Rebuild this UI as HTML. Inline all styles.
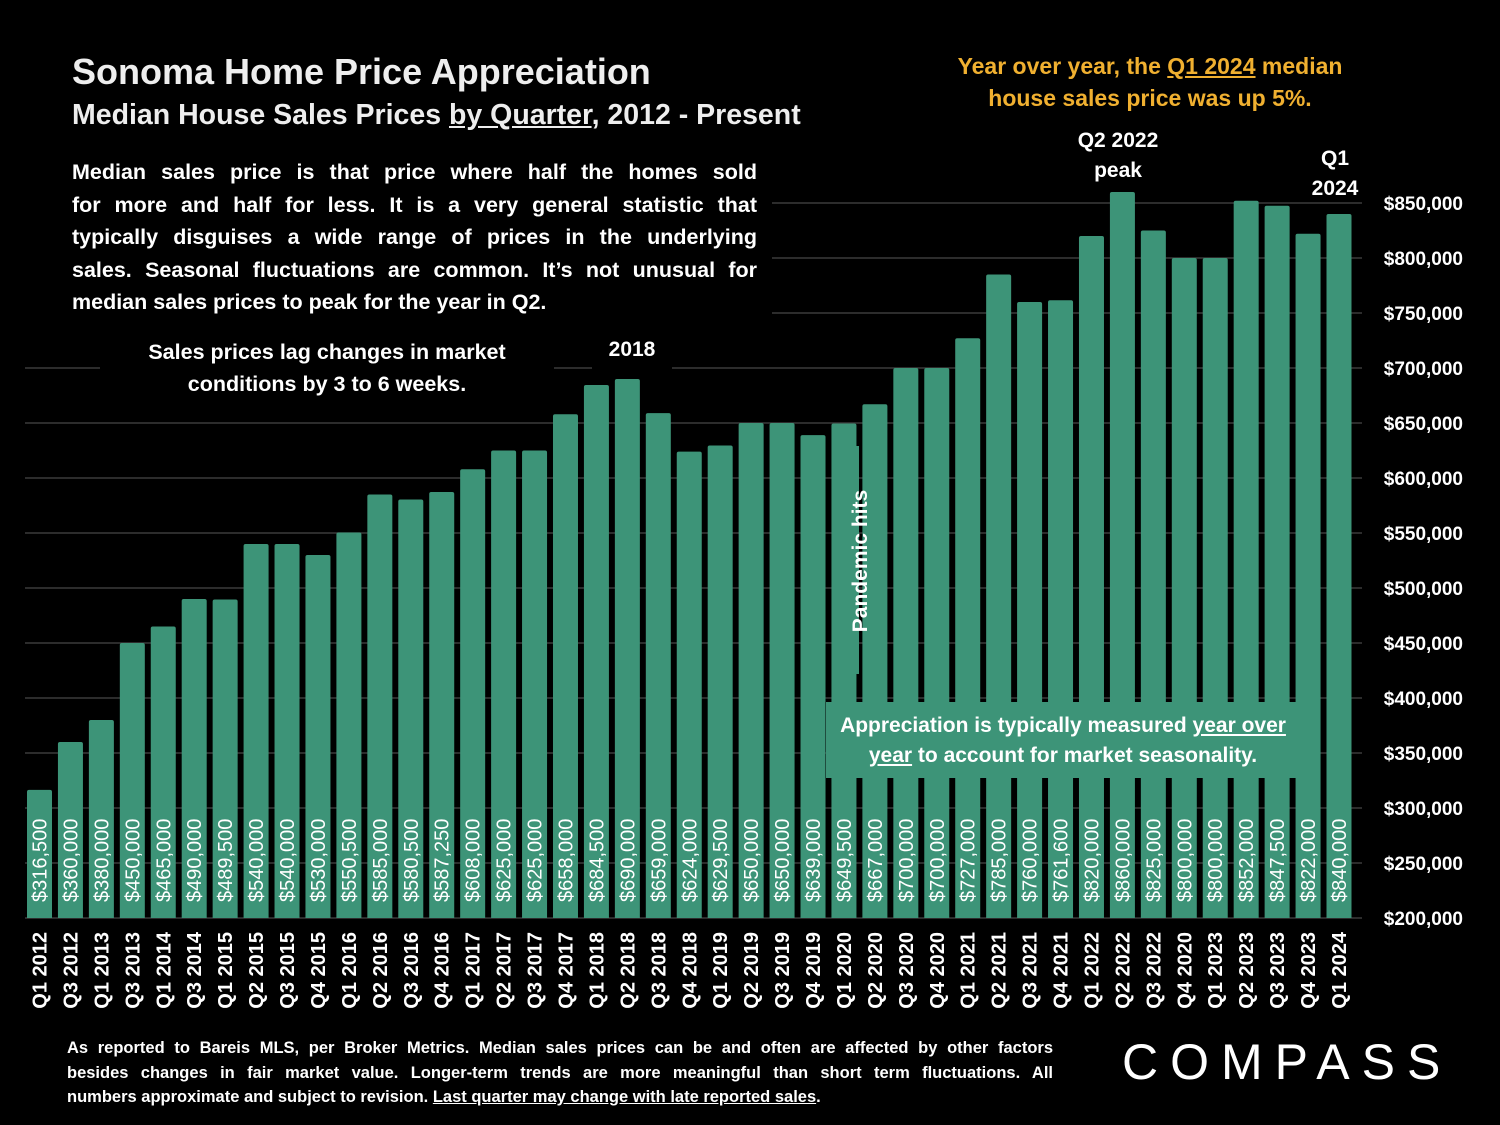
<!DOCTYPE html>
<html><head><meta charset="utf-8"><style>
html,body{margin:0;padding:0;background:#000;width:1500px;height:1125px;overflow:hidden}
svg text{font-family:"Liberation Sans",sans-serif}
.j{text-align:justify;text-align-last:justify;white-space:nowrap}
</style></head><body>
<svg id="chart" width="1500" height="1125" viewBox="0 0 1500 1125" xmlns="http://www.w3.org/2000/svg">
<rect width="1500" height="1125" fill="#000"/>
<g id="grid"></g><g id="bars"></g><g id="ann"></g><g id="xl"></g><g id="yl"></g>
</svg>
<script>
const categories=["Q1 2012","Q3 2012","Q1 2013","Q3 2013","Q1 2014","Q3 2014","Q1 2015","Q2 2015","Q3 2015","Q4 2015","Q1 2016","Q2 2016","Q3 2016","Q4 2016","Q1 2017","Q2 2017","Q3 2017","Q4 2017","Q1 2018","Q2 2018","Q3 2018","Q4 2018","Q1 2019","Q2 2019","Q3 2019","Q4 2019","Q1 2020","Q2 2020","Q3 2020","Q4 2020","Q1 2021","Q2 2021","Q3 2021","Q4 2021","Q1 2022","Q2 2022","Q3 2022","Q4 2020","Q1 2023","Q2 2023","Q3 2023","Q4 2023","Q1 2024"];
const values=[316500,360000,380000,450000,465000,490000,489500,540000,540000,530000,550500,585000,580500,587250,608000,625000,625000,658000,684500,690000,659000,624000,629500,650000,650000,639000,649500,667000,700000,700000,727000,785000,760000,761600,820000,860000,825000,800000,800000,852000,847500,822000,840000];
const yTicks=[200000,250000,300000,350000,400000,450000,500000,550000,600000,650000,700000,750000,800000,850000];
const NS="http://www.w3.org/2000/svg";
const y=v=>918-(v-200000)*(715/650000);
const x=i=>39.5+i*((1339-39.5)/(categories.length-1));
const bw=25;
function mk(tag,attrs,parent,text){const e=document.createElementNS(NS,tag);for(const k in attrs)e.setAttribute(k,attrs[k]);if(text!==undefined)e.textContent=text;document.getElementById(parent).appendChild(e);return e;}
const fmt=v=>"$"+v.toLocaleString("en-US");
yTicks.forEach(t=>{
 const l=mk("line",{x1:25,x2:1362,y1:y(t),y2:y(t),stroke:"#3a3a3a","stroke-width":1.5},"grid");
 
 
 const tx=mk("text",{x:1463,y:y(t)+7,"text-anchor":"end","font-size":19,"font-weight":"bold",fill:"#fff"},"yl",fmt(t));
 
 
});
categories.forEach((c,i)=>{
 const cx=x(i),top=y(values[i]);
 const r=mk("path",{d:`M${cx-bw/2},918 V${top+2} Q${cx-bw/2},${top} ${cx-bw/2+2},${top} H${cx+bw/2-2} Q${cx+bw/2},${top} ${cx+bw/2},${top+2} V918 Z`,fill:"#3d9478"},"bars");
 
 
 const vt=mk("text",{transform:`translate(${cx+7},902) rotate(-90)`,"font-size":20,fill:"#fff"},"bars",fmt(values[i]));
 
 
 const xt=mk("text",{transform:`translate(${cx+7},932) rotate(-90)`,"text-anchor":"end","font-size":20,"font-weight":"bold",fill:"#fff"},"xl",c);
 
 
});
</script>
<div style="position:absolute;left:0;top:0;width:1500px;height:1125px;font-family:'Liberation Sans',sans-serif;color:#fff;font-weight:bold">
 <div style="position:absolute;left:0;top:40px;width:880px;height:100px;background:#000"></div>
 <div style="position:absolute;left:72px;top:51px;font-size:36px;color:#eee">Sonoma Home Price Appreciation</div>
 <div style="position:absolute;left:72px;top:99px;font-size:28.5px;color:#eee">Median House Sales Prices <u>by Quarter</u>, 2012 - Present</div>
 <div style="position:absolute;left:930px;top:50px;width:440px;text-align:center;font-size:23px;line-height:32px;color:#f0b030;background:#000">Year over year, the <u>Q1 2024</u> median<br>house sales price was up 5%.</div>
 <div style="position:absolute;left:22px;top:156px;width:750px;height:162px;background:#000;font-size:21.5px;line-height:32.5px">
  <div style="margin-left:50px;width:685px">
   <div class="j">Median sales price is that price where half the homes sold</div>
   <div class="j">for more and half for less. It is a very general statistic that</div>
   <div class="j">typically disguises a wide range of prices in the underlying</div>
   <div class="j">sales. Seasonal fluctuations are common. It’s not unusual for</div>
   <div>median sales prices to peak for the year in Q2.</div>
  </div>
 </div>
 <div style="position:absolute;left:100px;top:336px;width:454px;height:64px;background:#000;text-align:center;font-size:21.5px;line-height:32px">Sales prices lag changes in market<br>conditions by 3 to 6 weeks.</div>
 <div style="position:absolute;left:592px;top:334px;width:80px;height:36px;background:#000;text-align:center;font-size:21px;line-height:32px">2018</div>
 <div style="position:absolute;left:1060px;top:126px;width:116px;height:60px;background:#000;text-align:center;font-size:21px;line-height:30px">Q2 2022<br>peak</div>
 <div style="position:absolute;left:1300px;top:144px;width:70px;height:56px;background:#000;text-align:center;font-size:21px;line-height:30px">Q1<br>2024</div>
 <div style="position:absolute;left:832px;top:446px;width:27px;height:228px;background:#3d9478"></div>
 <div style="position:absolute;left:746px;top:547px;width:230px;height:28px;transform:rotate(-90deg);text-align:center;font-size:21px;line-height:28px">Pandemic hits</div>
 <div style="position:absolute;left:826px;top:702px;width:474px;height:76px;background:#3d9478;text-align:center;font-size:21px;line-height:30px;padding-top:9px;box-sizing:border-box">Appreciation is typically measured <u>year over<br>year</u> to account for market seasonality.</div>
 <div style="position:absolute;left:67px;top:1036px;width:986px;font-size:16.5px;line-height:24.5px;font-weight:bold">
  <div class="j">As reported to Bareis MLS, per Broker Metrics. Median sales prices can be and often are affected by other factors</div>
  <div class="j">besides changes in fair market value. Longer-term trends are more meaningful than short term fluctuations. All</div>
  <div>numbers approximate and subject to revision. <u>Last quarter may change with late reported sales</u>.</div>
 </div>
 <div style="position:absolute;left:1122px;top:1034px;font-size:50px;font-weight:normal;letter-spacing:12px;line-height:56px">COMPASS</div>
</div>
</body></html>
